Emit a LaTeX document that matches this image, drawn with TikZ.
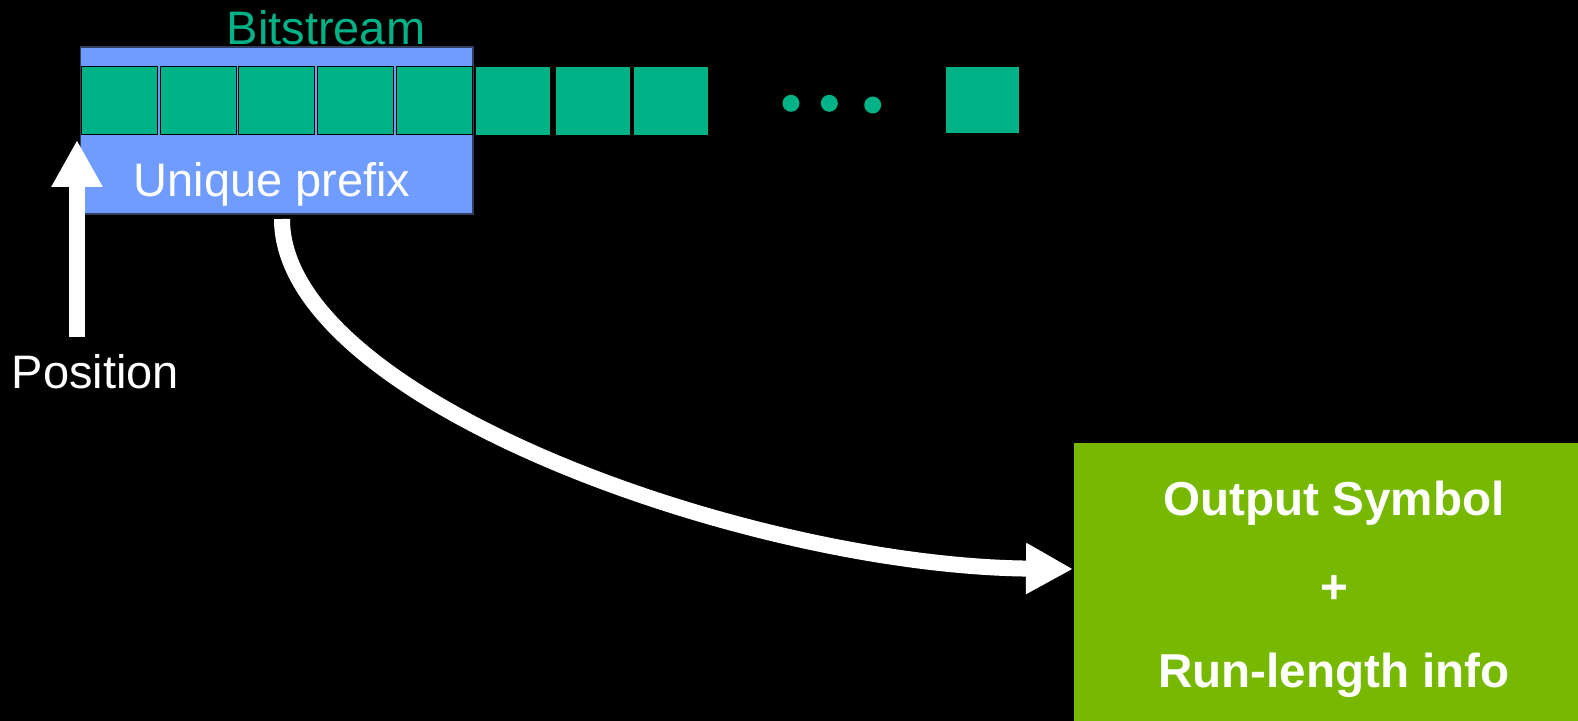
\documentclass[tikz,border=0pt]{standalone}
\usepackage{fontspec}
\setmainfont{Liberation Sans}
\usetikzlibrary{arrows.meta}
\definecolor{bitgreen}{RGB}{2,178,135}
\definecolor{prefblue}{RGB}{112,155,255}
\definecolor{prefedge}{RGB}{50,62,95}
\definecolor{nvgreen}{RGB}{118,185,0}
\begin{document}
\begin{tikzpicture}[x=0.5pt,y=-0.5pt,
  bit/.style={draw=black, line width=0.6pt, fill=bitgreen, inner sep=0pt, outer sep=0pt, minimum width=38pt, minimum height=34pt},
  bitout/.style={bit, draw=none, minimum width=37pt},
  dotmark/.style={circle, fill=bitgreen, inner sep=0pt, minimum size=8.5pt},
  lbl/.style={font=\fontsize{23.5}{28}\selectfont, inner sep=0pt, text=white},
  boldlbl/.style={lbl, font=\fontsize{23.8}{28}\selectfont\bfseries},
  bigarrow/.style={draw=white, line width=8pt, -{Triangle[length=23.5pt,width=24pt]}}
]
\fill[black] (0,0) rectangle (1578,721);
\useasboundingbox (0,0) rectangle (1578,721);

% unique prefix region
\node[fill=prefblue, draw=prefedge, line width=0.6pt, inner sep=0pt, minimum width=196.25pt, minimum height=83.5pt] (prefix) at (276.75,130.5) {};

% bits
\node[bit] (b1) at (119.75,100.75) {};
\node[bit] (b2) at (198.25,100.75) {};
\node[bit] (b3) at (276.75,100.75) {};
\node[bit] (b4) at (355.75,100.75) {};
\node[bit] (b5) at (434.75,100.75) {};
\node[bitout] (b6) at (513.25,100.75) {};
\node[bitout] (b7) at (592.75,100.75) {};
\node[bitout] (b8) at (670.75,100.75) {};
\node[dotmark] (d1) at (791,103.3) {};
\node[dotmark] (d2) at (829.3,103.3) {};
\node[dotmark] (d3) at (872.7,105) {};
\node[bitout, minimum width=36.5pt, minimum height=33pt] (bn) at (982,99.85) {};

% labels
\node[lbl, text=bitgreen, anchor=base] (title) at (326,45) {Bitstream};
\node[lbl, anchor=base] (preflbl) at (272,197) {Unique prefix};
\node[lbl, anchor=base] (poslbl) at (95.5,388) {Position};

% output box
\node[fill=nvgreen, inner sep=0pt, minimum width=258pt, minimum height=143.5pt] (out) at (1332,586.5) {};
\node[boldlbl, anchor=base] (o1) at (1334,515) {Output Symbol};
\node[boldlbl, anchor=center] (o2) at (1334,590) {+};
\node[boldlbl, anchor=base] (o3) at (1334,687) {Run-length info};

% position arrow
\coordinate (posbot) at (77,337);
\coordinate (postip) at (77,140);
\draw[bigarrow] (posbot) -- (postip);

% decode arrow
\coordinate (cs) at (282,219);
\coordinate (ce) at (1073,569);
\draw[bigarrow] (cs) .. controls (282,400) and (750,566) .. (ce);
\end{tikzpicture}
\end{document}
